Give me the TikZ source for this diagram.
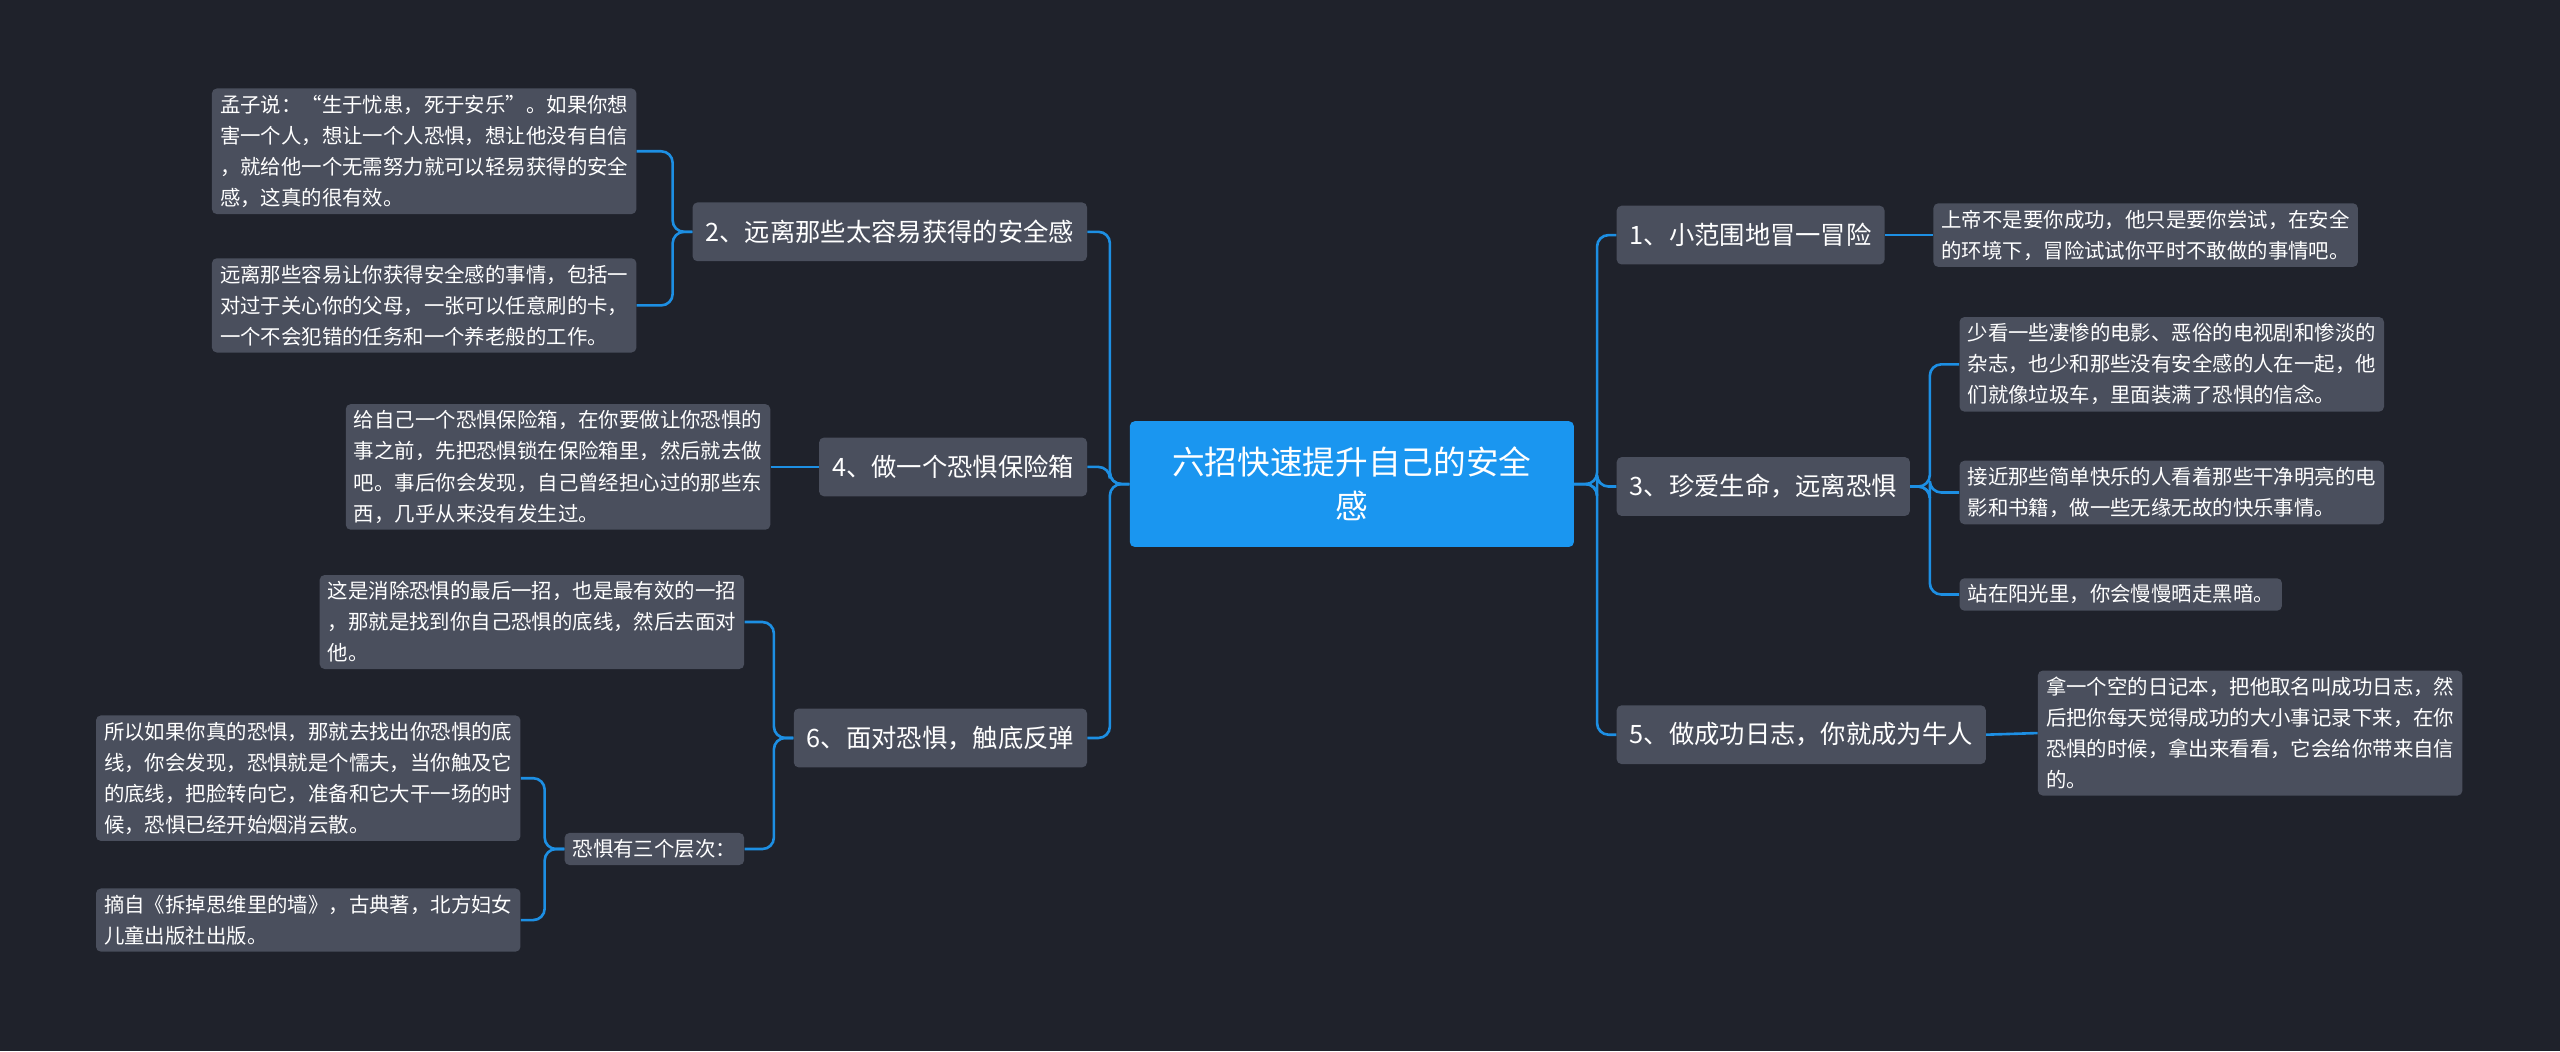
\documentclass[tikz,border=0pt]{standalone}
\usepackage{fontspec}
\setmainfont{Noto Sans CJK SC}
\XeTeXlinebreaklocale "zh"
\XeTeXlinebreakskip=0pt plus 1pt
\begin{document}
\begin{tikzpicture}[x=1pt,y=-1pt,
  leaf/.style={fill=leafc,rounded corners=3,text=white,font=\fontsize{12.5}{19}\selectfont,align=left,inner xsep=5,inner ysep=4,anchor=north west},
  br/.style={fill=leafc,rounded corners=3,text=white,font=\fontsize{15.5}{19}\selectfont,inner xsep=8,minimum height=36},
  ln/.style={draw=linec,line width=1.6,rounded corners=7}]
\definecolor{bg}{HTML}{1F222B}
\definecolor{leafc}{HTML}{4A4F5D}
\definecolor{linec}{HTML}{1D8FE3}
\definecolor{rootc}{HTML}{1A96F0}
\fill[bg] (0,0) rectangle (1568,644);
\node[fill=rootc,rounded corners=3,text=white,font=\fontsize{20}{27}\selectfont,align=center,minimum width=272,minimum height=77] (root) at (828,296.5) {六招快速提升自己的安全\\感};
\node[br,anchor=west] (b1) at (990,144) {1、小范围地冒一冒险};
\node[br,anchor=west] (b3) at (990,298) {3、珍爱生命，远离恐惧};
\node[br,anchor=west] (b5) at (990,450) {5、做成功日志，你就成为牛人};
\node[br,anchor=east] (b2) at (666,142) {2、远离那些太容易获得的安全感};
\node[br,anchor=east] (b4) at (666,286) {4、做一个恐惧保险箱};
\node[br,anchor=east] (b6) at (666,452) {6、面对恐惧，触底反弹};
\node[leaf,anchor=west] (l1) at (1184,144) {上帝不是要你成功，他只是要你尝试，在安全\\的环境下，冒险试试你平时不敢做的事情吧。};
\node[leaf] (l3a) at (1200,194) {少看一些凄惨的电影、恶俗的电视剧和惨淡的\\杂志，也少和那些没有安全感的人在一起，他\\们就像垃圾车，里面装满了恐惧的信念。};
\node[leaf] (l3b) at (1200,282) {接近那些简单快乐的人看着那些干净明亮的电\\影和书籍，做一些无缘无故的快乐事情。};
\node[leaf] (l3c) at (1200,354) {站在阳光里，你会慢慢晒走黑暗。};
\node[leaf,anchor=west] (l5) at (1248,449) {拿一个空的日记本，把他取名叫成功日志，然\\后把你每天觉得成功的大小事记录下来，在你\\恐惧的时候，拿出来看看，它会给你带来自信\\的。};
\node[leaf,anchor=north east] (l2a) at (390,54) {孟子说：“生于忧患，死于安乐”。如果你想\\害一个人，想让一个人恐惧，想让他没有自信\\，就给他一个无需努力就可以轻易获得的安全\\感，这真的很有效。};
\node[leaf,anchor=north east] (l2b) at (390,158) {远离那些容易让你获得安全感的事情，包括一\\对过于关心你的父母，一张可以任意刷的卡，\\一个不会犯错的任务和一个养老般的工作。};
\node[leaf,anchor=east] (l4) at (472,286) {给自己一个恐惧保险箱，在你要做让你恐惧的\\事之前，先把恐惧锁在保险箱里，然后就去做\\吧。事后你会发现，自己曾经担心过的那些东\\西，几乎从来没有发生过。};
\node[leaf,anchor=north east] (l6a) at (456,352) {这是消除恐惧的最后一招，也是最有效的一招\\，那就是找到你自己恐惧的底线，然后去面对\\他。};
\node[leaf,anchor=north east] (l6b) at (456,510) {恐惧有三个层次：};
\node[leaf,anchor=north east] (l6b1) at (319,438) {所以如果你真的恐惧，那就去找出你恐惧的底\\线，你会发现，恐惧就是个懦夫，当你触及它\\的底线，把脸转向它，准备和它大干一场的时\\候，恐惧已经开始烟消云散。};
\node[leaf,anchor=north east] (l6b2) at (319,544) {摘自《拆掉思维里的墙》，古典著，北方妇女\\儿童出版社出版。};
\foreach \b in {b1,b3,b5} \draw[ln] (root.east) -- ++(14,0) |- (\b.west);
\foreach \b in {b2,b4,b6} \draw[ln] (root.west) -- ++(-12,0) |- (\b.east);
\draw[ln] (b1.east) -- (l1.west);
\foreach \l in {l3a,l3b,l3c} \draw[ln] (b3.east) -- ++(12,0) |- (\l.west);
\draw[ln] (b5.east) -- (l5.west);
\foreach \l in {l2a,l2b} \draw[ln] (b2.west) -- ++(-12,0) |- (\l.east);
\draw[ln] (b4.west) -- (l4.east);
\foreach \l in {l6a,l6b} \draw[ln] (b6.west) -- ++(-12,0) |- (\l.east);
\foreach \l in {l6b1,l6b2} \draw[ln] (l6b.west) -- ++(-12,0) |- (\l.east);
\end{tikzpicture}
\end{document}
